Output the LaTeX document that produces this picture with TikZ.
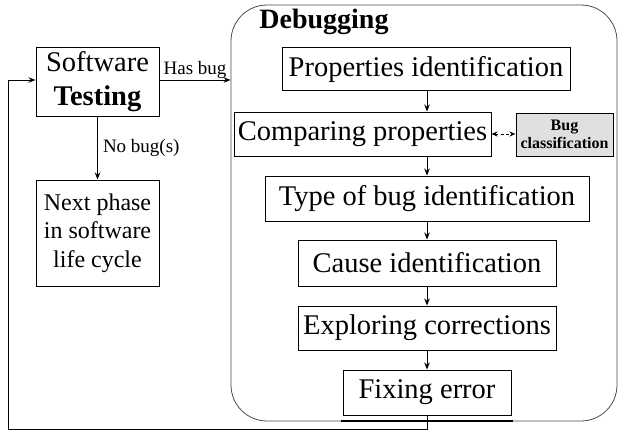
\documentclass[tikz,border=0pt]{standalone}
\usepackage{fontspec}
\setmainfont{Liberation Serif}
\usetikzlibrary{arrows.meta}
\begin{document}
\begin{tikzpicture}[x=1pt,y=-1pt,
  box/.style={draw, line width=1pt, inner sep=0pt, align=center},
  big/.style={font=\fontsize{28.5}{31}\selectfont},
  arr/.style={line width=1pt, -{Stealth[length=7pt,width=5.5pt]}},
  lbl/.style={font=\fontsize{19}{21}\selectfont, inner sep=1pt}]
\useasboundingbox (0,0) rectangle (618,432);
% container
\node[draw=black!70, line width=0.8pt, rounded corners=36pt, minimum width=386pt, minimum height=416pt, inner sep=0pt] (dbg) at (424,213) {};
\node[font=\fontsize{28}{30}\selectfont\bfseries, inner sep=0pt] (title) at (324,22) {Debugging};
% left side
\node[box, minimum width=123pt, minimum height=69pt, font=\fontsize{28.5}{34}\selectfont] (st) at (97.5,81.5) {Software\\\textbf{Testing}};
\node[box, minimum width=123pt, minimum height=106pt, font=\fontsize{24}{28.5}\selectfont] (np) at (97.5,233) {Next phase\\in software\\life cycle};
% debugging chain
\node[box, big, minimum width=288pt, minimum height=43pt] (pi) at (426,69) {Properties identification};
\node[box, big, minimum width=257pt, minimum height=44pt] (cp) at (362.5,134) {Comparing properties};
\node[box, fill=black!12, minimum width=97pt, minimum height=43pt, font=\fontsize{16}{18}\selectfont\bfseries] (bc) at (564.5,134.5) {Bug\\classification};
\node[box, big, minimum width=324pt, minimum height=45pt] (tb) at (427,198.5) {Type of bug identification};
\node[box, big, minimum width=258pt, minimum height=46pt] (ci) at (427,263) {Cause identification};
\node[box, big, minimum width=258pt, minimum height=44pt] (ec) at (427,328) {Exploring corrections};
\node[box, big, minimum width=168pt, minimum height=45pt] (fe) at (427,392.5) {Fixing error};
% connectors
\draw[arr] (st.east |- 0,80) -- (dbg.west |- 0,80) node[lbl, midway, above] {Has bug};
\draw[arr] (st.south) -- (np.north) node[lbl, midway, right, xshift=4pt] {No bug(s)};
\draw[arr] (pi.south -| 427,0) -- (cp.north -| 427,0);
\draw[arr] (cp.south -| 427,0) -- (tb.north);
\draw[arr] (tb.south) -- (ci.north);
\draw[arr] (ci.south) -- (ec.north);
\draw[arr] (ec.south) -- (fe.north);
\draw[line width=1pt, dash pattern=on 3pt off 2.5pt, {Stealth[length=6pt,width=5pt]}-{Stealth[length=6pt,width=5pt]}] (cp.east) -- (bc.west |- cp.east);
% feedback loop
\coordinate (lc) at (8,429);
\draw[line width=1.8pt] (341,421) -- (513,421);
\draw[arr] (fe.south) |- (lc) |- (st.west |- 0,80);
\end{tikzpicture}
\end{document}
